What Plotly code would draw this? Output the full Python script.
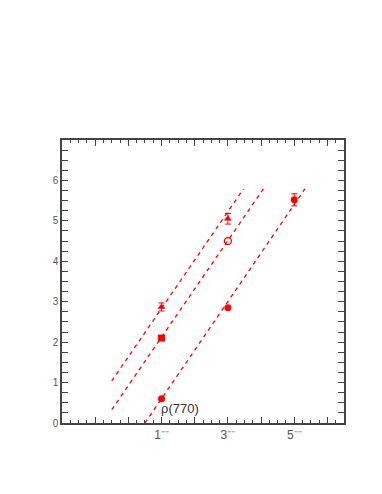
import plotly.graph_objects as go

# Data
tri_x = [1, 3]
tri_y = [2.87, 5.05]
tri_err = [0.10, 0.13]

sq_x = [1]
sq_y = [2.10]

open_x = [3]
open_y = [4.50]

circ_x = [1, 3, 5]
circ_y = [0.60, 2.85, 5.52]
circ_err = [0.0, 0.0, 0.15]

line_a_x = [-0.5, 3.47]
line_a_y = [1.04, 5.79]
line_b_x = [-0.5, 4.07]
line_b_y = [0.33, 5.79]
line_c_x = [0.5, 5.32]
line_c_y = [0.0, 5.79]

xtick_vals = [1, 3, 5]
xtick_text = ["1⁻⁻", "3⁻⁻", "5⁻⁻"]
ytick_vals = [0, 1, 2, 3, 4, 5, 6]

RED = "#ff0000"
fig = go.Figure()
for lx, ly in [(line_a_x, line_a_y), (line_b_x, line_b_y), (line_c_x, line_c_y)]:
    fig.add_trace(go.Scatter(x=lx, y=ly, mode="lines",
                             line=dict(color=RED, width=1.3, dash="4px,4px"),
                             showlegend=False, hoverinfo="skip"))

err_style = dict(type="data", thickness=1, width=3, color=RED)
fig.add_trace(go.Scatter(x=tri_x, y=tri_y, mode="markers",
                         marker=dict(symbol="triangle-up", size=7, color=RED),
                         error_y=dict(array=tri_err, **err_style), showlegend=False))
fig.add_trace(go.Scatter(x=sq_x, y=sq_y, mode="markers",
                         marker=dict(symbol="square", size=7, color=RED), showlegend=False))
fig.add_trace(go.Scatter(x=open_x, y=open_y, mode="markers",
                         marker=dict(symbol="circle-open", size=7, color=RED, line=dict(width=1.3)),
                         showlegend=False))
fig.add_trace(go.Scatter(x=circ_x, y=circ_y, mode="markers",
                         marker=dict(symbol="circle", size=7, color=RED),
                         error_y=dict(array=circ_err, **err_style), showlegend=False))
# invisible trace on the overlay axis so it is drawn
fig.add_trace(go.Scatter(x=[-2], y=[0], mode="markers", marker=dict(opacity=0),
                         xaxis="x2", showlegend=False, hoverinfo="skip"))

fig.add_annotation(x=0.93, y=0.36, text="ρ(770)", showarrow=False, xanchor="left",
                   font=dict(family="Liberation Sans, Arial", size=13, color="#333"))

tickfont = dict(family="Liberation Sans, Arial", size=10, color="#555")
axis_common = dict(showgrid=False, zeroline=False, showline=True, linecolor="#444",
                   linewidth=1.5, mirror="allticks", ticks="inside", ticklen=6,
                   tickcolor="#444", tickwidth=1, tickfont=tickfont)
minor = dict(tick0=0, dtick=0.25, ticks="inside", ticklen=3, tickcolor="#444", tickwidth=1)

fig.update_layout(
    xaxis=dict(range=[-2, 6.5], tickmode="array", tickvals=xtick_vals, ticktext=xtick_text,
               minor=minor,
               **{**axis_common, "tickfont": dict(family="Liberation Sans, Arial", size=12, color="#555")}),
    xaxis2=dict(range=[-2, 6.5], overlaying="x", side="bottom", tickmode="linear", tick0=0, dtick=1,
                ticks="inside", ticklen=6, tickcolor="#444", tickwidth=1, showticklabels=False,
                showgrid=False, zeroline=False, showline=False, mirror="allticks"),
    yaxis=dict(range=[0, 7], tickmode="array", tickvals=ytick_vals, minor=minor, **axis_common),
    width=382, height=494, plot_bgcolor="white", paper_bgcolor="white",
    margin=dict(l=54, r=46, t=132, b=79),
)
fig.write_html("out.html")
